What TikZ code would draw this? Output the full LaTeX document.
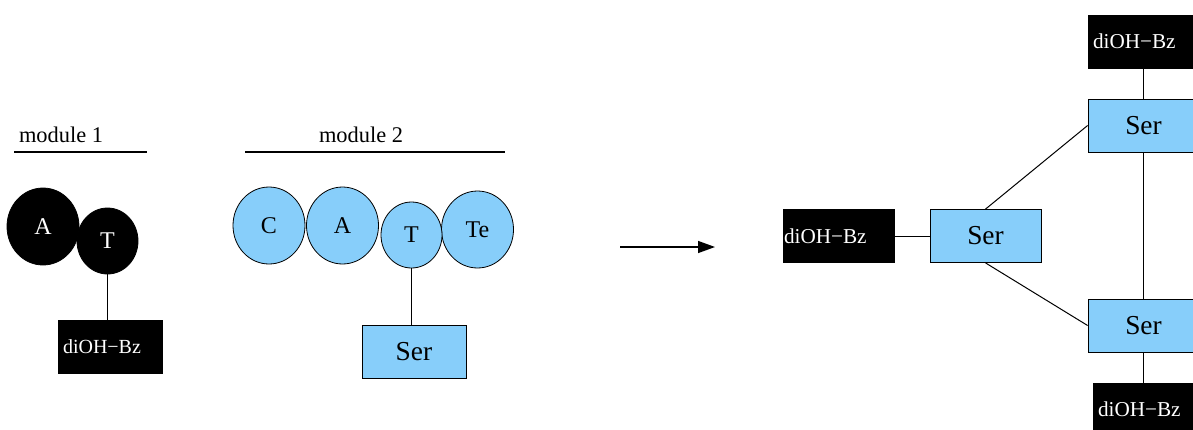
\documentclass[tikz,border=0pt]{standalone}
\usepackage{fontspec}
\setmainfont{Liberation Serif}
\usetikzlibrary{shapes.geometric,arrows.meta}
\definecolor{serblue}{RGB}{135,206,250}

\begin{document}
\begin{tikzpicture}[x=0.5pt, y=-0.5pt,
    bigblob/.style={ellipse, draw, inner sep=0pt, minimum width=36pt, minimum height=38.5pt, font=\fontsize{12}{14}\selectfont},
    smallblob/.style={ellipse, draw, inner sep=0pt, minimum width=30.5pt, minimum height=33pt, font=\fontsize{12}{14}\selectfont},
    dark/.style={fill=black, text=white},
    pale/.style={fill=serblue, text=black},
    serbox/.style={rectangle, draw, fill=serblue, inner sep=0pt, minimum width=55.5pt, minimum height=26.5pt, font=\fontsize{13.7}{16}\selectfont},
    bzbox/.style={rectangle, draw, fill=black, text=white, inner xsep=2.5pt, inner ysep=0pt, text width=50.5pt, align=left, minimum height=26.5pt, font=\fontsize{10.6}{12}\selectfont},
    modlabel/.style={anchor=base, font=\fontsize{11.2}{13}\selectfont},
    link/.style={line width=0.5pt}]
    \useasboundingbox (0,0) rectangle (1193,429);

    % module 1
    \node[modlabel] (mod1) at (61,142) {module 1};
    \draw[line width=0.8pt] (14,152) -- (147,152);
    \node[bigblob, dark] (A1) at (43,226.5) {A};
    \node[smallblob, dark] (T1) at (107.5,241) {T};
    \node[bzbox, text width=47pt, font=\fontsize{10}{12}\selectfont] (bz1) at (110,346.5) {diOH−Bz};
    \draw[link] (T1.south) -- (T1.south |- bz1.north);

    % module 2
    \node[modlabel] (mod2) at (361,142) {module 2};
    \draw[line width=0.8pt] (245,152) -- (505,152);
    \foreach \lab/\x/\y in {C/269/225.5, A/342.5/225.5, Te/477.5/229.5} {
        \node[bigblob, pale] (\lab2) at (\x,\y) {\lab};
    }
    \node[smallblob, pale] (T2) at (411.5,235) {T};
    \node[serbox, minimum width=52pt] (ser2) at (414,351.5) {Ser};
    \draw[link] (T2.south) -- (T2.south |- ser2.north);

    % arrow
    \coordinate (from) at (620,247);
    \coordinate (to) at (715,247);
    \draw[line width=0.7pt, -{Triangle[length=8.5pt, width=6pt]}] (from) -- (to);

    % product
    \node[bzbox, inner xsep=0.5pt, text width=54.5pt] (bzL) at (838.5,236) {diOH−Bz};
    \node[serbox] (sM) at (985.5,236) {Ser};
    \node[serbox] (sT) at (1143.5,125.5) {Ser};
    \node[serbox] (sB) at (1143.5,325.5) {Ser};
    \node[bzbox] (bzT) at (1143.5,41.5) {diOH−Bz};
    \node[bzbox] (bzB) at (1148.5,409.5) {diOH−Bz};
    \draw[link] (bzL) -- (sM);
    \draw[link] (sM.north) -- (sT.west);
    \draw[link] (sM.south) -- (sB.west);
    \draw[link] (bzT) -- (sT);
    \draw[link] (sT) -- (sB);
    \draw[link] (sB.south) -- (sB.south |- bzB.north);
\end{tikzpicture}
\end{document}
